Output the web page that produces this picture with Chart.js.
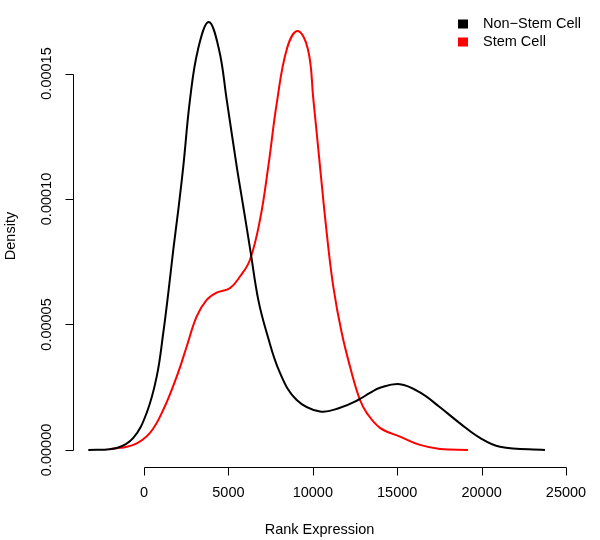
<!DOCTYPE html>
<html>
<head>
<meta charset="utf-8">
<script src="https://cdn.jsdelivr.net/npm/chart.js@4/dist/chart.umd.min.js"></script>
<style>
  body { margin: 0; background: #fff; }
  #wrap { width: 600px; height: 540px; }
</style>
</head>
<body>
<div id="wrap"><canvas id="densityChart" width="600" height="540"></canvas></div>
<script>
// Density curves
const nonStemX = [-3300, -1617, -634, 160, 752, 1143, 1440, 1736, 2032, 2328, 2725, 3199, 3833, 4443, 4899, 5492, 5883, 6179, 6321, 6771, 7269, 8057, 9046, 10426, 11611, 12677, 13388, 13980, 15165, 16350, 17535, 18720, 19905, 21090, 23755];
const nonStemY = [0, 0.0000008, 0.0000048, 0.0000148, 0.0000292, 0.0000467, 0.0000626, 0.0000798, 0.0000957, 0.000113, 0.0001396, 0.0001596, 0.0001705, 0.0001596, 0.0001396, 0.000113, 0.0000969, 0.0000846, 0.0000786, 0.0000598, 0.0000467, 0.0000307, 0.0000199, 0.0000153, 0.0000168, 0.0000199, 0.0000227, 0.0000248, 0.0000262, 0.0000229, 0.0000170, 0.0000106, 0.0000048, 0.0000013, 0];

const stemX = [-2014, -634, 355, 1143, 1937, 2530, 3122, 3714, 4307, 5095, 5687, 6279, 6872, 7364, 7861, 8471, 9105, 9715, 10029, 10426, 10823, 11214, 11712, 12304, 12796, 13193, 13980, 15165, 16350, 17535, 19194];
const stemY = [0.0000003, 0.000002, 0.0000068, 0.000016, 0.0000292, 0.0000412, 0.0000532, 0.0000598, 0.0000627, 0.0000645, 0.0000691, 0.0000758, 0.0000917, 0.000113, 0.000138, 0.0001600, 0.0001669, 0.0001596, 0.0001400, 0.000113, 0.0000866, 0.0000651, 0.0000467, 0.0000307, 0.0000199, 0.0000148, 0.0000088, 0.0000053, 0.000002, 0.0000004, 0];

const xTicks = [0, 5000, 10000, 15000, 20000, 25000];
const yTicks = [0, 0.00005, 0.0001, 0.00015];
const yTickLabels = ['0.00000', '0.00005', '0.00010', '0.00015'];
const seriesNames = ['Non\u2212Stem Cell', 'Stem Cell'];
const seriesColors = ['#000000', '#ff0000'];

const FONT = '14.5px "Liberation Sans", Arial, sans-serif';

function toPoints(xs, ys) {
    return xs.map((x, i) => ({ x: x, y: ys[i] }));
}

// R-style axes: line only between first and last tick, ticks pointing out
const rAxes = {
    id: 'rAxes',
    afterDraw(chart) {
        const ctx = chart.ctx;
        const xs = chart.scales.x;
        const ys = chart.scales.y;
        const area = chart.chartArea;
        ctx.save();
        ctx.strokeStyle = '#000';
        ctx.fillStyle = '#000';
        ctx.lineWidth = 1;
        ctx.font = FONT;

        // x axis
        const axY = Math.round(area.bottom) + 0.5;
        const x0 = Math.round(xs.getPixelForValue(xTicks[0])) + 0.5;
        const x1 = Math.round(xs.getPixelForValue(xTicks[xTicks.length - 1])) + 0.5;
        ctx.beginPath();
        ctx.moveTo(x0, axY);
        ctx.lineTo(x1, axY);
        xTicks.forEach(v => {
            const px = Math.round(xs.getPixelForValue(v)) + 0.5;
            ctx.moveTo(px, axY);
            ctx.lineTo(px, axY + 8);
        });
        ctx.stroke();
        ctx.textAlign = 'center';
        ctx.textBaseline = 'middle';
        xTicks.forEach(v => {
            ctx.fillText(String(v), xs.getPixelForValue(v), 493);
        });
        ctx.fillText('Rank Expression', (area.left + area.right) / 2, 530);

        // y axis
        const axX = Math.round(area.left) + 0.5;
        const y0 = Math.round(ys.getPixelForValue(yTicks[0])) + 0.5;
        const y1 = Math.round(ys.getPixelForValue(yTicks[yTicks.length - 1])) + 0.5;
        ctx.beginPath();
        ctx.moveTo(axX, y0);
        ctx.lineTo(axX, y1);
        yTicks.forEach(v => {
            const py = Math.round(ys.getPixelForValue(v)) + 0.5;
            ctx.moveTo(axX, py);
            ctx.lineTo(axX - 8, py);
        });
        ctx.stroke();
        yTicks.forEach((v, i) => {
            ctx.save();
            ctx.translate(47, ys.getPixelForValue(v));
            ctx.rotate(-Math.PI / 2);
            ctx.fillText(yTickLabels[i], 0, 0);
            ctx.restore();
        });
        ctx.save();
        ctx.translate(11, (area.top + area.bottom) / 2);
        ctx.rotate(-Math.PI / 2);
        ctx.fillText('Density', 0, 0);
        ctx.restore();

        // legend, top right
        ctx.textAlign = 'left';
        seriesNames.forEach((name, i) => {
            const cy = 23.5 + i * 18;
            ctx.fillStyle = seriesColors[i];
            ctx.fillRect(458, cy - 4, 10, 9);
            ctx.fillStyle = '#000';
            ctx.fillText(name, 483, cy + 0.5);
        });
        ctx.restore();
    }
};

const ctx = document.getElementById('densityChart').getContext('2d');
new Chart(ctx, {
    type: 'line',
    data: {
        datasets: [
            {
                label: seriesNames[0],
                data: toPoints(nonStemX, nonStemY),
                borderColor: seriesColors[0],
                borderWidth: 2,
                pointRadius: 0,
                tension: 0.4,
                fill: false
            },
            {
                label: seriesNames[1],
                data: toPoints(stemX, stemY),
                borderColor: seriesColors[1],
                borderWidth: 2,
                pointRadius: 0,
                tension: 0.4,
                fill: false
            }
        ]
    },
    options: {
        responsive: false,
        animation: false,
        layout: {
            padding: { left: 73, right: 34, top: 5, bottom: 73 }
        },
        plugins: {
            legend: { display: false },
            tooltip: { enabled: false }
        },
        scales: {
            x: {
                type: 'linear',
                display: false,
                min: -4206,
                max: 25000
            },
            y: {
                type: 'linear',
                display: false,
                min: -0.0000068,
                max: 0.0001773
            }
        }
    },
    plugins: [rAxes]
});
</script>
</body>
</html>
